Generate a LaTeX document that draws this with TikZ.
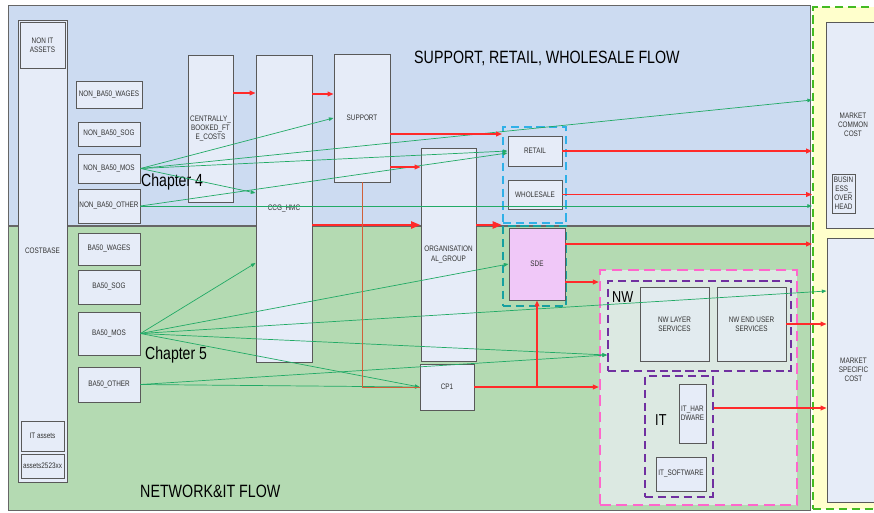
\documentclass[tikz,border=0pt]{standalone}
\usepackage{fontspec}
\setmainfont{Liberation Sans}
\newfontfamily\condfont[FakeStretch=0.8]{Liberation Sans}
\usetikzlibrary{arrows.meta}
\definecolor{supbg}{HTML}{CCDBF1}
\definecolor{netbg}{HTML}{B4DAB2}
\definecolor{boxfill}{HTML}{E6ECF8}
\definecolor{mktbg}{HTML}{FFFFCC}
\definecolor{nwitbg}{HTML}{DCE9E2}
\definecolor{sdefill}{HTML}{F0C8F8}
\definecolor{flowred}{HTML}{FF2A2A}
\definecolor{flowgreen}{HTML}{22AA66}
\definecolor{costred}{HTML}{D0603A}
\definecolor{grpblue}{HTML}{30B0E8}
\definecolor{grpteal}{HTML}{16A0A0}
\definecolor{grppink}{HTML}{FF66CC}
\definecolor{grppurple}{HTML}{7030A0}
\definecolor{grpgreen}{HTML}{44BB22}

\begin{document}
\begin{tikzpicture}[x=0.3mm, y=-0.3mm,
  box/.style={draw=black!65, line width=0.8pt, fill=boxfill, inner sep=1pt, align=center,
    font=\condfont\fontsize{6.8}{7.8}\selectfont, text=black!80},
  sz/.style 2 args={minimum width=#1*0.3mm, minimum height=#2*0.3mm},
  grp/.style={draw=#1, line width=1.6pt, dash pattern=on 7pt off 4pt, inner sep=0pt},
  title/.style={font=\condfont\fontsize{15.2}{17}\selectfont, inner sep=0pt, anchor=west},
  chap/.style={font=\condfont\fontsize{15}{17}\selectfont, inner sep=0pt, anchor=west},
  grplbl/.style={font=\condfont\fontsize{13.5}{15}\selectfont, inner sep=0pt, anchor=west},
  garr/.style={draw=flowgreen, line width=0.6pt, -{Triangle[length=4pt,width=3pt]}},
  rarr/.style={draw=flowred, line width=1pt, -{Triangle[length=5pt,width=4pt]}},
  rthick/.style={draw=flowred, line width=1.8pt, -{Triangle[length=8pt,width=6pt]}}]

  \useasboundingbox (0,0) rectangle (874,512);
  \clip (0,0) rectangle (874,512);

  % flow areas
  \fill[supbg] (8,5) rectangle (810,226);
  \fill[netbg] (8,226) rectangle (810,510);
  \draw[black!60, line width=0.8pt] (8,5) rectangle (810,510);
  \draw[black!60, line width=1pt] (8,226) -- (810,226);
  \node[title] (t1) at (414,58) {SUPPORT, RETAIL, WHOLESALE FLOW};
  \node[title] (t2) at (140,491) {NETWORK\&IT FLOW};

  % market side
  \node[grp=grpgreen, fill=mktbg, sz={67}{502}] (market) at (846.5,258) {};
  \node[box, sz={54}{206}] (mcc) at (853,125) {MARKET\\COMMON\\COST};
  \node[box, sz={23}{39}, inner sep=0pt] (bso) at (843.5,193.5) {BUSIN\\ESS\_\\OVER\\HEAD};
  \node[box, sz={53}{264}] (msc) at (853.5,370) {MARKET\\SPECIFIC\\COST};

  % cost base
  \node[box, sz={49}{462}] (costbase) at (42.5,251) {COSTBASE};
  \node[box, sz={45}{46}] (nonit) at (42.5,45) {NON IT\\ASSETS};
  \node[box, sz={43}{30}] (itassets) at (42.5,436) {IT assets};
  \node[box, sz={43}{24}] (assets) at (42.5,466) {assets2523xx};

  \node[box, sz={66}{27}] (nbwages) at (109,94.5) {NON\_BA50\_WAGES};
  \node[box, sz={62}{24}] (nbsog) at (109,134) {NON\_BA50\_SOG};
  \node[box, sz={62}{29}] (nbmos) at (109,168.5) {NON\_BA50\_MOS};
  \node[box, sz={62}{34}] (nboth) at (109,206) {NON\_BA50\_OTHER};
  \node[box, sz={62}{32}] (bwages) at (109,249) {BA50\_WAGES};
  \node[box, sz={62}{34}] (bsog) at (109,287) {BA50\_SOG};
  \node[box, sz={62}{43}] (bmos) at (109,333.5) {BA50\_MOS};
  \node[box, sz={62}{35}] (both) at (109,384.5) {BA50\_OTHER};

  % allocation
  \node[box, sz={45}{147}] (cbf) at (210.5,128.5) {CENTRALLY\_\\BOOKED\_FT\\E\_COSTS};
  \node[box, sz={56}{307}] (ccg) at (284,208.5) {CCG\_HMC};
  \node[box, sz={56}{128}] (support) at (362,118) {SUPPORT};
  \node[box, sz={55}{213}] (org) at (448.5,254.5) {ORGANISATION\\AL\_GROUP};
  \node[box, sz={54}{46}] (cp1) at (447,387) {CP1};
  \node[chap] (ch4) at (141,182) {Chapter 4};
  \node[chap] (ch5) at (145,355) {Chapter 5};

  % retail, wholesale, sde
  \node[grp=grpblue, sz={63}{96}] (retgrp) at (534.5,175) {};
  \node[grp=grpteal, sz={63}{80}] (sdegrp) at (534.5,266) {};
  \node[box, sz={54}{30}] (retail) at (535,151) {RETAIL};
  \node[box, sz={54}{29}] (wholesale) at (535,194.5) {WHOLESALE};
  \node[box, fill=sdefill, sz={56}{72}] (sde) at (537,264) {SDE};

  % network and it
  \node[grp=grppink, fill=nwitbg, line width=2pt, dash pattern=on 9pt off 5pt, sz={197}{235}] (nwit) at (698.5,387.5) {};
  \node[grp=grppurple, sz={183}{90}] (nw) at (699.5,326) {};
  \node[grplbl] (nwlbl) at (612,297) {NW};
  \node[box, fill=nwitbg!40!boxfill, sz={69}{74}] (nwlayer) at (674.5,324) {NW LAYER\\SERVICES};
  \node[box, fill=nwitbg!40!boxfill, sz={69}{74}] (nweu) at (751.5,324) {NW END USER\\SERVICES};
  \node[grp=grppurple, sz={68}{121}] (it) at (679,436.5) {};
  \node[grplbl] (itlbl) at (655,420) {IT};
  \node[box, sz={27}{59}, inner sep=0pt] (ithw) at (692.5,413.5) {IT\_HAR\\DWARE};
  \node[box, sz={50}{34}] (itsw) at (681,474) {IT\_SOFTWARE};

  % green flows
  \draw[garr] (nbmos.east) -- (support.west);
  \draw[garr] (nbmos.east) -- (ccg.west |- 0,193);
  \draw[garr] (nbmos.east) -- (market.west |- 0,100);
  \draw[garr] (nbmos.east) -- (retail.west);
  \draw[garr] (nboth.east) -- (retail.west |- 0,153);
  \draw[garr] (nboth.east) -- (nboth.east -| market.west);
  \draw[garr] (bmos.east) -- (ccg.west |- 0,263);
  \draw[garr] (bmos.east) -- (sde.west);
  \draw[garr] (bmos.east) -- (msc.west |- 0,291);
  \draw[garr] (bmos.east) -- (nw.west |- 0,355);
  \draw[garr] (bmos.east) -- (cp1.west);
  \draw[garr] (both.east) -- (cp1.west);
  \draw[garr] (both.east) -- (nw.west |- 0,355);

  % red flows
  \draw[rarr] (cbf.east |- 0,93) -- (ccg.west |- 0,93);
  \draw[rarr] (ccg.east |- 0,94) -- (support.west |- 0,94);
  \draw[rarr] (support.east |- 0,134) -- (retgrp.west |- 0,134);
  \draw[rarr] (support.east |- 0,167) -- (org.west |- 0,167);
  \draw[rthick] (ccg.east |- 0,225) -- (org.west |- 0,225);
  \draw[rthick] (org.east |- 0,225) -- (sdegrp.west |- 0,225);
  \draw[costred, line width=0.8pt] (support.south) |- (cp1.west);
  \draw[rarr] (cp1.east) -- (cp1.east -| nwit.west);
  \draw[rarr] (cp1.east -| sde.south) -- (sde.south);
  \draw[rarr] (retail.east) -- (retail.east -| market.west);
  \draw[rarr] (wholesale.east) -- (wholesale.east -| market.west);
  \draw[rarr] (sde.east |- 0,244) -- (market.west |- 0,244);
  \draw[rarr] (sde.east |- 0,282) -- (nwit.west |- 0,282);
  \draw[rarr] (nweu.east) -- (nweu.east -| msc.west);
  \draw[rarr] (it.east |- 0,408) -- (msc.west |- 0,408);

\end{tikzpicture}
\end{document}
